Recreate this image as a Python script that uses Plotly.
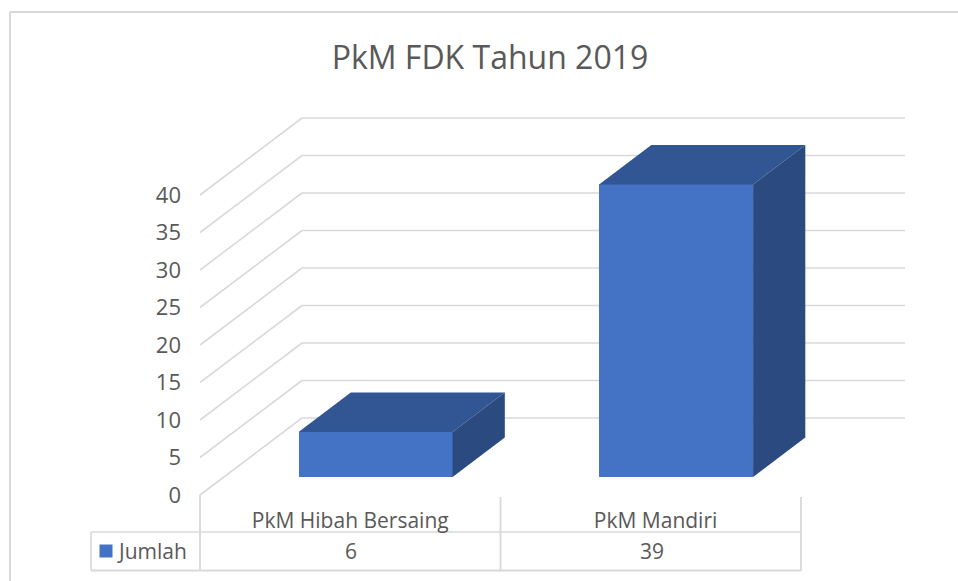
import plotly.graph_objects as go

# --- data ---
categories = ["PkM Hibah Bersaing", "PkM Mandiri"]
values = [6, 39]
series_name = "Jumlah"
y_ticks = [0, 5, 10, 15, 20, 25, 30, 35, 40]
title_text = "PkM FDK Tahun 2019"

# --- geometry / style ---
W, H = 958, 581
X0, X_PER_CAT = 200, 300.5    # px of category 0 start, px per category
Y0, Y_PER_UNIT = 495, 7.5     # px of value 0, px per value unit
DEPTH_X = 102 / X_PER_CAT     # oblique depth of the floor, in axis units
DEPTH_Y = 77 / Y_PER_UNIT
BAR_OFFSET = 0.2483
BAR_WIDTH = 0.5125
BAR_D0 = 0.235
BAR_D1 = 0.747
FRONT, TOP, SIDE = "#4472C4", "#325593", "#2A4A80"
GRID = "#D9D9D9"
TEXT = "#595959"
FONT = "Open Sans"
LABEL_NUDGE = [0.0, 0.016]


def px(x, d=0):
    return x + d * DEPTH_X


def py(y, d=0):
    return y + d * DEPTH_Y


x_range = [(0 - X0) / X_PER_CAT, (W - X0) / X_PER_CAT]
y_range = [(Y0 - H) / Y_PER_UNIT, Y0 / Y_PER_UNIT]
x_end_back = (905 - X0) / X_PER_CAT  # right end of wall lines
table_left = (91 - X0) / X_PER_CAT
table_rule = (Y0 - 532) / Y_PER_UNIT
table_bottom = (Y0 - 570.5) / Y_PER_UNIT
table_row = (Y0 - 551) / Y_PER_UNIT
axis_top = (Y0 - 497) / Y_PER_UNIT
n = len(categories)

shapes = []


def line(x0, y0, x1, y1, width=1.6):
    shapes.append(dict(type="line", xref="x", yref="y", x0=x0, y0=y0, x1=x1, y1=y1,
                       line=dict(color=GRID, width=width), layer="below"))


# outer frame (paper coordinates)
shapes.append(dict(type="line", xref="paper", yref="paper", x0=10 / W, x1=10 / W, y0=0, y1=(H - 12) / H,
                   line=dict(color=GRID, width=2), layer="below"))
shapes.append(dict(type="line", xref="paper", yref="paper", x0=10 / W, x1=1, y0=(H - 12) / H, y1=(H - 12) / H,
                   line=dict(color=GRID, width=2), layer="below"))

# wall + side wall gridlines
for t in y_ticks:
    line(0, t, px(0, 1), py(t, 1))
    line(px(0, 1), py(t, 1), x_end_back, py(t, 1))

# data table
line(table_left, table_rule, n, table_rule)
line(table_left, table_bottom, n, table_bottom, 2)
line(table_left, table_rule, table_left, table_bottom)
for i in range(n + 1):
    line(i, axis_top if i else 0, i, table_bottom, 1.8)

fig = go.Figure()

# front faces: real bars
x_front = [i + BAR_OFFSET + BAR_WIDTH / 2 + BAR_D0 * DEPTH_X for i in range(n)]
fig.add_trace(go.Bar(
    x=x_front, y=values, base=[py(0, BAR_D0)] * n, width=BAR_WIDTH,
    marker=dict(color=FRONT, line=dict(width=0)), name=series_name, showlegend=False,
    hoverinfo="skip",
))

# top and side faces
for i, v in enumerate(values):
    xl = i + BAR_OFFSET
    xr = xl + BAR_WIDTH
    y_b, y_t = 0, v
    fig.add_trace(go.Scatter(
        x=[px(xl, BAR_D0), px(xl, BAR_D1), px(xr, BAR_D1), px(xr, BAR_D0)],
        y=[py(y_t, BAR_D0), py(y_t, BAR_D1), py(y_t, BAR_D1), py(y_t, BAR_D0)],
        fill="toself", fillcolor=TOP, mode="lines", line=dict(width=0), showlegend=False, hoverinfo="skip"))
    fig.add_trace(go.Scatter(
        x=[px(xr, BAR_D0), px(xr, BAR_D1), px(xr, BAR_D1), px(xr, BAR_D0)],
        y=[py(y_t, BAR_D0), py(y_t, BAR_D1), py(y_b, BAR_D1), py(y_b, BAR_D0)],
        fill="toself", fillcolor=SIDE, mode="lines", line=dict(width=0), showlegend=False, hoverinfo="skip"))

# legend key in the table
fig.add_trace(go.Scatter(
    x=[(106 - X0) / X_PER_CAT], y=[table_row], mode="markers",
    marker=dict(symbol="square", size=13, color=FRONT), showlegend=False, hoverinfo="skip"))

annotations = [
    dict(x=(115 - X0) / X_PER_CAT, y=table_row, xref="x", yref="y", text=series_name, showarrow=False,
         xanchor="left", yanchor="middle", font=dict(family=FONT, size=21, color=TEXT)),
]
for i, v in enumerate(values):
    annotations.append(dict(x=i + 0.5 + 0.004, y=table_row, xref="x", yref="y", text=str(v), showarrow=False,
                            xanchor="center", yanchor="middle", font=dict(family=FONT, size=21, color=TEXT)))

fig.update_layout(
    width=W, height=H, margin=dict(l=0, r=0, t=0, b=0), autosize=False,
    paper_bgcolor="white", plot_bgcolor="white", showlegend=False,
    title=dict(text=title_text, x=490 / W, y=(H - 58) / H, xanchor="center", yanchor="middle",
               font=dict(family=FONT, size=32, color=TEXT)),
    xaxis=dict(range=x_range, domain=[0, 1], anchor="free", position=(H - 506) / H, side="bottom",
               tickmode="array", tickvals=[i + 0.5 + LABEL_NUDGE[i] for i in range(n)], ticktext=categories,
               ticks="", showgrid=False, zeroline=False, showline=False,
               tickfont=dict(family=FONT, size=21, color=TEXT)),
    yaxis=dict(range=y_range, domain=[0, 1], anchor="free", position=X0 / W, side="left",
               tickmode="array", tickvals=y_ticks, ticks="", ticklabelstandoff=19,
               showgrid=False, zeroline=False, showline=False,
               tickfont=dict(family=FONT, size=22, color=TEXT)),
    shapes=shapes, annotations=annotations, bargap=0,
)

fig.write_html("out.html", config=dict(displayModeBar=False),
               post_script="document.body.style.margin='0';document.documentElement.style.overflow='hidden';")
